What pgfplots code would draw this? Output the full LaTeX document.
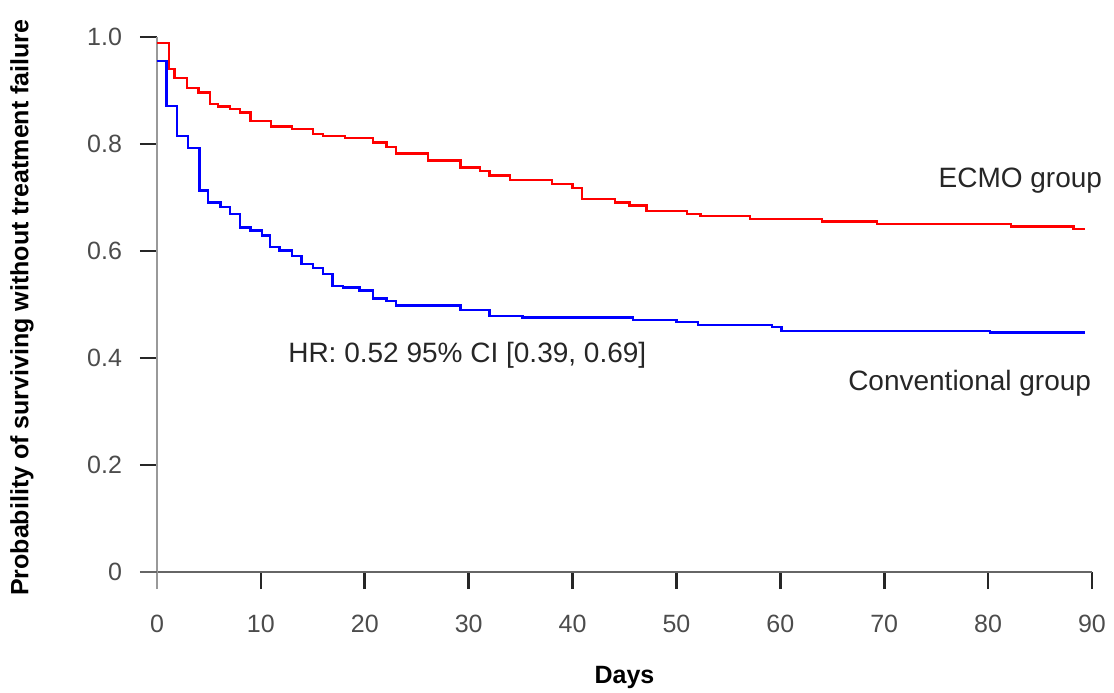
\documentclass[border=0pt]{standalone}
\usepackage{fontspec}
\setmainfont{Liberation Sans}
\usepackage{pgfplots}
\pgfplotsset{compat=1.18}
\begin{document}
\begin{tikzpicture}
\useasboundingbox (0,0) rectangle (557pt,346pt);
\begin{axis}[
  at={(78.5pt,60pt)}, anchor=south west,
  scale only axis, width=467.5pt, height=267.5pt,
  xmin=0, xmax=90, ymin=0, ymax=1,
  axis x line=bottom, axis y line=left,
  x axis line style={-, draw=black!60, line width=1.1pt},
  y axis line style={-, draw=black!40, line width=0.9pt},
  clip=false,
  xtick={10,20,...,90},
  ytick={0.2,0.4,0.6,0.8,1.0},
  yticklabels={0.2,0.4,0.6,0.8,1.0},
  extra x ticks={0},
  extra x tick style={major tick style={draw=black!40, line width=0.9pt}},
  extra y ticks={0}, extra y tick labels={0},
  extra y tick style={major tick style={draw=black!60, line width=1.1pt}},
  tick align=outside, major tick length=8.5pt,
  major tick style={draw=black!85, line width=1.3pt},
  /pgf/number format/assume math mode=true,
  tick label style={font=\fontsize{12.5}{14}\selectfont, text=black!70},
  xticklabel style={yshift=-9.5pt},
  yticklabel style={xshift=-5.5pt},
  xlabel={Days},
  xlabel style={at={(axis description cs:0.5,-0.198)}, anchor=center, font=\bfseries\fontsize{12.5}{14}\selectfont},
  ylabel={Probability of surviving without treatment failure},
  ylabel style={at={(axis description cs:-0.1444,0.494)}, anchor=center, font=\bfseries\fontsize{12.5}{14}\selectfont},
]
\addplot[const plot, draw=red, line width=1.2pt] coordinates {
(0,0.989) (1.15,0.940) (1.7,0.923) (2.9,0.905) (4,0.896) (5.1,0.875) (5.9,0.870) (7,0.865) (8,0.859) (9,0.843) (11,0.833) (13,0.828) (15,0.819) (16,0.815) (18.1,0.811) (20.8,0.803) (22.1,0.794) (23,0.782) (26.1,0.769) (29.2,0.756) (31.1,0.750) (32,0.741) (34,0.733) (38,0.725) (40,0.718) (40.9,0.697) (44.1,0.691) (45.5,0.685) (47.1,0.675) (51,0.669) (52.3,0.665) (57.1,0.660) (64,0.655) (69.3,0.651) (82.2,0.646) (88.2,0.641) (89.3,0.641)
};
\addplot[const plot, draw=blue, line width=1.2pt] coordinates {
(0,0.955) (0.9,0.871) (1.9,0.815) (3,0.793) (4.1,0.713) (4.9,0.691) (6.1,0.682) (7,0.669) (8,0.644) (9,0.638) (10.1,0.629) (10.9,0.607) (11.8,0.601) (13,0.591) (13.9,0.576) (15,0.568) (16,0.557) (16.9,0.535) (17.9,0.532) (19.5,0.526) (20.8,0.511) (22.1,0.506) (23,0.498) (29.2,0.490) (32,0.479) (35.2,0.476) (45.8,0.471) (50,0.467) (52.1,0.462) (59.2,0.458) (60.1,0.451) (80.2,0.448) (89.3,0.448)
};
\node[anchor=west, inner sep=0pt, font=\fontsize{14}{16}\selectfont, text=black!85] at (axis cs:75.2,0.731) {ECMO group};
\node[anchor=west, inner sep=0pt, font=\fontsize{14}{16}\selectfont, text=black!85] at (axis cs:66.5,0.353) {Conventional group};
\node[anchor=west, inner sep=0pt, font=\fontsize{14}{16}\selectfont, text=black!85] at (axis cs:12.6,0.405) {HR: 0.52 95\% CI [0.39, 0.69]};
\end{axis}
\end{tikzpicture}
\end{document}
